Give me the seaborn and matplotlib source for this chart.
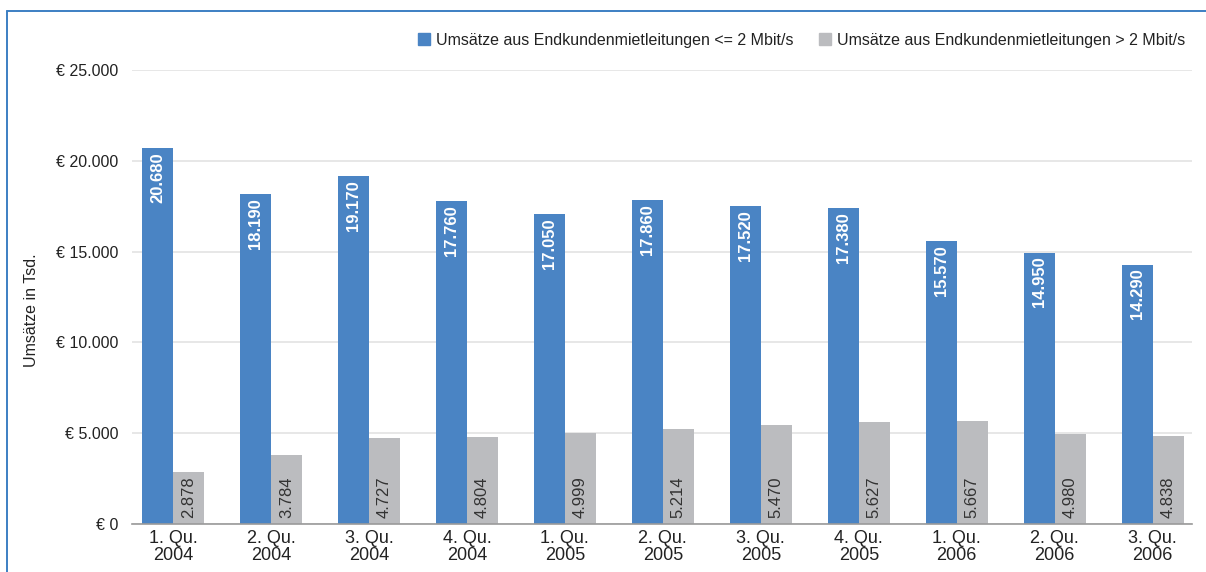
import numpy as np
import matplotlib.pyplot as plt
import pandas as pd
import seaborn as sns
from matplotlib.lines import Line2D
from matplotlib.ticker import FuncFormatter

quarters = ["1. Qu.\n2004", "2. Qu.\n2004", "3. Qu.\n2004", "4. Qu.\n2004",
            "1. Qu.\n2005", "2. Qu.\n2005", "3. Qu.\n2005", "4. Qu.\n2005",
            "1. Qu.\n2006", "2. Qu.\n2006", "3. Qu.\n2006"]
low_speed = [20680, 18190, 19170, 17760, 17050, 17860, 17520, 17380, 15570, 14950, 14290]
high_speed = [2878, 3784, 4727, 4804, 4999, 5214, 5470, 5627, 5667, 4980, 4838]
series_names = ["Umsätze aus Endkundenmietleitungen <= 2 Mbit/s",
                "Umsätze aus Endkundenmietleitungen > 2 Mbit/s"]
colors = ["#4a84c4", "#bbbcbf"]

df = pd.DataFrame({
    "quarter": quarters * 2,
    "value": low_speed + high_speed,
    "series": [series_names[0]] * len(quarters) + [series_names[1]] * len(quarters),
})

sns.set_style("white")
plt.rcParams['font.family'] = ['Liberation Sans', 'DejaVu Sans']

fig = plt.figure(figsize=(12.06, 5.72), dpi=100)
ax = fig.add_axes([0.1095, 0.0839, 0.8786, 0.7937])

sns.barplot(data=df, x="quarter", y="value", hue="series", palette=colors,
            width=0.63, gap=0, saturation=1, linewidth=0, ax=ax, legend=False)

def de_fmt(v):
    return f"{int(round(v)):,}".replace(",", ".")

# value labels
for cont, is_low in zip(ax.containers, [True, False]):
    for bar in cont:
        h = bar.get_height()
        xc = bar.get_x() + bar.get_width() / 2
        if is_low:
            ax.annotate(de_fmt(h), (xc, h), xytext=(0, -3), textcoords="offset points",
                        rotation=90, ha="center", va="top", color="white",
                        fontweight="bold", fontsize=12)
        else:
            ax.annotate(de_fmt(h), (xc, 0), xytext=(0, 4), textcoords="offset points",
                        rotation=90, ha="center", va="bottom", color="#333333",
                        fontsize=12)

ax.set_ylim(0, 25000)
ax.set_xlim(-0.418, 10.398)
ax.set_yticks(np.arange(0, 25001, 5000))
ax.yaxis.set_major_formatter(FuncFormatter(lambda v, p: "€ " + de_fmt(v)))
ax.grid(axis="y", color="#e3e3e3", linewidth=1.2)
ax.set_axisbelow(True)
for s in ["top", "right", "left"]:
    ax.spines[s].set_visible(False)
ax.spines["bottom"].set_color("#9a9a9a")
ax.spines["bottom"].set_linewidth(1.2)
ax.tick_params(axis="y", length=0, pad=10, labelsize=11.5, labelcolor="#222222")
ax.tick_params(axis="x", length=0, pad=4, labelsize=13, labelcolor="#222222")
for t in ax.get_xticklabels():
    t.set_linespacing(1.05)
ax.set_xlabel("")
ax.set_ylabel("Umsätze in Tsd.", fontsize=11.5, color="#222222")
ax.yaxis.set_label_coords(-0.088, 0.47)

handles = [plt.Rectangle((0, 0), 1, 1, color=c) for c in colors]
fig.legend(handles, series_names, loc="upper right", bbox_to_anchor=(0.995, 0.968),
           ncol=2, frameon=False, fontsize=11.5, handlelength=0.75, handleheight=0.75,
           handletextpad=0.4, columnspacing=1.6, labelcolor="#222222")

# blue frame on top and left
fig.add_artist(Line2D([0.0058, 1.0], [0.981, 0.981], color="#3c7fc3", linewidth=1.4,
                      transform=fig.transFigure))
fig.add_artist(Line2D([0.0058, 0.0058], [0.0, 0.981], color="#3c7fc3", linewidth=1.4,
                      transform=fig.transFigure))

fig.savefig("out.png", dpi=100)
